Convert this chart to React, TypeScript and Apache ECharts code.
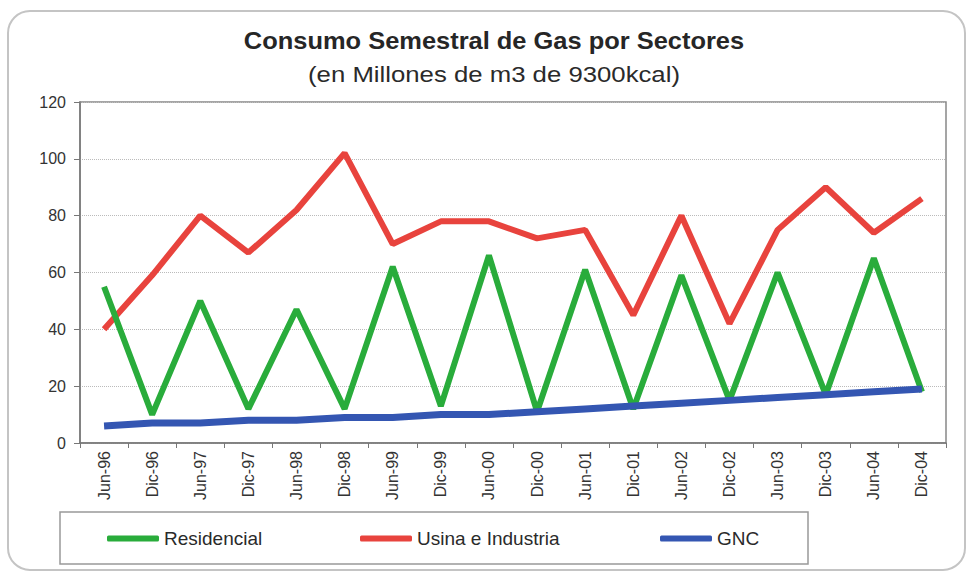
import React, { useEffect, useRef } from "react";
import * as echarts from "echarts";

const categories = [
  "Jun-96", "Dic-96", "Jun-97", "Dic-97", "Jun-98", "Dic-98", "Jun-99", "Dic-99", "Jun-00",
  "Dic-00", "Jun-01", "Dic-01", "Jun-02", "Dic-02", "Jun-03", "Dic-03", "Jun-04", "Dic-04",
];
const residencial = [55, 10, 50, 12, 47, 12, 62, 13, 66, 11, 61, 12, 59, 15, 60, 17, 65, 18];
const usinaIndustria = [40, 59, 80, 67, 82, 102, 70, 78, 78, 72, 75, 45, 80, 42, 75, 90, 74, 86];
const gnc = [6, 7, 7, 8, 8, 9, 9, 10, 10, 11, 12, 13, 14, 15, 16, 17, 18, 19];

const titleText = "Consumo Semestral de Gas por Sectores";
const subtitleText = "(en Millones de m3 de 9300kcal)";

const GREEN = "#29ac3b";
const RED = "#e8433d";
const BLUE = "#3456b2";

export default function App() {
  const ref = useRef<HTMLDivElement>(null);
  useEffect(() => {
    if (!ref.current) return;
    const chart = echarts.init(ref.current, undefined, { renderer: "svg" });
    const font = "'Liberation Sans', Arial, sans-serif";
    const legendCommon = {
      top: 529,
      itemWidth: 52,
      itemHeight: 6,
      icon: "roundRect",
      textStyle: { fontFamily: font, fontSize: 19, color: "#2a2a2a" },
      selectedMode: false,
      padding: 0,
    };
    chart.setOption({
      animation: false,
      backgroundColor: "#fff",
      graphic: [
        {
          type: "rect",
          shape: { x: 8, y: 11, width: 957, height: 559, r: 22 },
          style: { fill: "none", stroke: "#c4c4c4", lineWidth: 2 },
          z: -1,
        },
        {
          type: "rect",
          shape: { x: 60, y: 512, width: 748, height: 52 },
          style: { fill: "none", stroke: "#999", lineWidth: 1.5 },
          z: -1,
        },
        {
          type: "text",
          x: 494,
          y: 41,
          scaleX: 1.06,
          style: {
            text: titleText,
            fontFamily: font,
            fontSize: 24,
            fontWeight: "bold",
            fill: "#262626",
            textAlign: "center",
            textVerticalAlign: "middle",
          },
        },
        {
          type: "text",
          x: 494,
          y: 74,
          scaleX: 1.17,
          style: {
            text: subtitleText,
            fontFamily: font,
            fontSize: 22,
            fill: "#2a2a2a",
            textAlign: "center",
            textVerticalAlign: "middle",
          },
        },
      ],
      legend: [
        { ...legendCommon, left: 107, data: ["Residencial"] },
        { ...legendCommon, left: 360, data: ["Usina e Industria"] },
        { ...legendCommon, left: 660, data: ["GNC"] },
      ],
      grid: {
        left: 80,
        right: 25,
        top: 102,
        bottom: 133,
        show: true,
        borderColor: "#888",
        borderWidth: 1.5,
      },
      xAxis: {
        type: "category",
        data: categories,
        boundaryGap: true,
        axisLine: { lineStyle: { color: "#777", width: 1.5 } },
        axisTick: { show: true, length: 5, lineStyle: { color: "#777" } },
        axisLabel: {
          rotate: 90,
          interval: 0,
          margin: 8,
          fontFamily: font,
          fontSize: 16,
          color: "#333",
        },
        splitLine: { show: false },
      },
      yAxis: {
        type: "value",
        min: 0,
        max: 120,
        interval: 20,
        axisLine: { show: true, lineStyle: { color: "#777", width: 1.5 } },
        axisTick: { show: true, length: 6, lineStyle: { color: "#777" } },
        axisLabel: { fontFamily: font, fontSize: 16, color: "#333", margin: 14 },
        splitLine: { show: true, lineStyle: { color: "#bbb", type: "dotted", width: 1 } },
      },
      series: [
        {
          name: "Usina e Industria",
          type: "line",
          data: usinaIndustria,
          showSymbol: false,
          itemStyle: { color: RED },
          lineStyle: { color: RED, width: 6 },
        },
        {
          name: "Residencial",
          type: "line",
          data: residencial,
          showSymbol: false,
          itemStyle: { color: GREEN },
          lineStyle: { color: GREEN, width: 6 },
        },
        {
          name: "GNC",
          type: "line",
          data: gnc,
          showSymbol: false,
          itemStyle: { color: BLUE },
          lineStyle: { color: BLUE, width: 7 },
        },
      ],
    });
    return () => chart.dispose();
  }, []);
  return (
    <div
      ref={ref}
      style={{ position: "fixed", left: 0, top: 0, width: 971, height: 576 }}
    />
  );
}
